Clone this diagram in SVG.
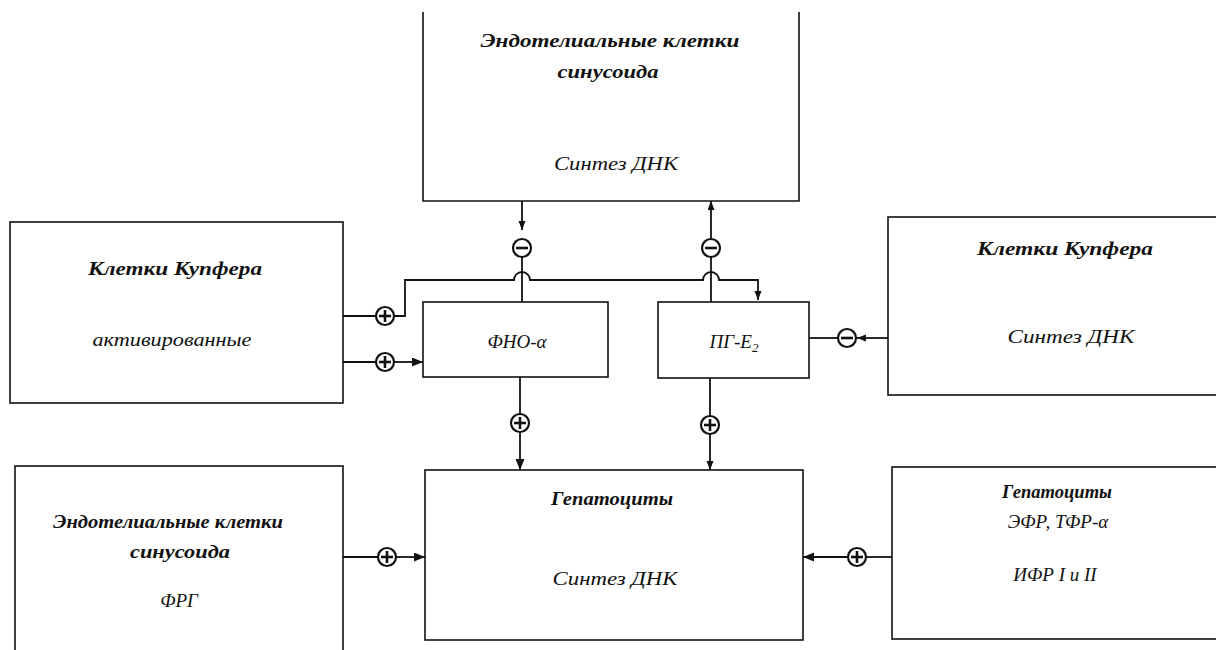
<svg xmlns="http://www.w3.org/2000/svg" width="1216" height="650" viewBox="0 0 1216 650">
<style>
.box{fill:none;stroke:#111;stroke-width:1.6}
.ln{fill:none;stroke:#111;stroke-width:1.8}
.sg{fill:#fff;stroke:#111;stroke-width:2.2}
.sn{stroke:#111;stroke-width:2.6;stroke-linecap:butt}
.h{font-family:"Liberation Serif",serif;font-style:italic;font-weight:bold;font-size:19px;fill:#111;text-anchor:middle}
.t{font-family:"Liberation Serif",serif;font-style:italic;font-size:19px;fill:#111;text-anchor:middle}
</style>
<defs>
<marker id="ar" markerUnits="userSpaceOnUse" markerWidth="12" markerHeight="10" refX="11" refY="4.5" orient="auto"><path d="M0,0 L11,4.5 L0,9 z" fill="#111"/></marker>
<marker id="as" markerUnits="userSpaceOnUse" markerWidth="10" markerHeight="8" refX="9" refY="3.5" orient="auto"><path d="M0,0 L9,3.5 L0,7 z" fill="#111"/></marker>
</defs>
<rect width="1216" height="650" fill="#fff"/>

<g id="endo-top">
<path class="box" d="M423,12 V201 H799 V12"/>
<text class="h" x="610" y="47" textLength="259" lengthAdjust="spacingAndGlyphs">Эндотелиальные клетки</text>
<text class="h" x="608" y="78" textLength="101" lengthAdjust="spacingAndGlyphs">синусоида</text>
<text class="t" x="616" y="170" textLength="124" lengthAdjust="spacingAndGlyphs">Синтез ДНК</text>
</g>

<g id="kupffer-left">
<rect class="box" x="10" y="222" width="333" height="181"/>
<text class="h" x="175" y="275" textLength="174" lengthAdjust="spacingAndGlyphs">Клетки Купфера</text>
<text class="t" x="172" y="346" textLength="159" lengthAdjust="spacingAndGlyphs">активированные</text>
</g>

<g id="fno">
<rect class="box" x="423" y="302" width="185" height="75"/>
<text class="t" x="517" y="348">ФНО-α</text>
</g>

<g id="pg">
<rect class="box" x="658" y="302" width="151" height="76"/>
<text class="t" x="734" y="348">ПГ-E<tspan font-size="13" dy="4">2</tspan></text>
</g>

<g id="kupffer-right">
<rect class="box" x="888" y="217" width="400" height="178"/>
<text class="h" x="1065" y="255" textLength="176" lengthAdjust="spacingAndGlyphs">Клетки Купфера</text>
<text class="t" x="1071" y="343" textLength="127" lengthAdjust="spacingAndGlyphs">Синтез ДНК</text>
</g>

<g id="endo-bottom">
<rect class="box" x="15" y="466" width="328" height="300"/>
<text class="h" x="168" y="528" textLength="230" lengthAdjust="spacingAndGlyphs">Эндотелиальные клетки</text>
<text class="h" x="180" y="558" textLength="100" lengthAdjust="spacingAndGlyphs">синусоида</text>
<text class="t" x="179" y="607">ФРГ</text>
</g>

<g id="hepato-center">
<rect class="box" x="425" y="470" width="378" height="170"/>
<text class="h" x="612" y="505" textLength="122" lengthAdjust="spacingAndGlyphs">Гепатоциты</text>
<text class="t" x="615" y="585" textLength="125" lengthAdjust="spacingAndGlyphs">Синтез ДНК</text>
</g>

<g id="hepato-right">
<rect class="box" x="892" y="467" width="400" height="172"/>
<text class="h" x="1057" y="498" textLength="110" lengthAdjust="spacingAndGlyphs">Гепатоциты</text>
<text class="t" x="1058" y="528">ЭФР, ТФР-α</text>
<text class="t" x="1055" y="581">ИФР I и II</text>
</g>

<g id="connectors">
<!-- top box down to minus circle (left) -->
<line class="ln" x1="522" y1="201" x2="522" y2="230" marker-end="url(#as)"/>
<line class="ln" x1="522" y1="257" x2="522" y2="302"/>
<!-- minus circle up to top box (right) -->
<line class="ln" x1="711" y1="239" x2="711" y2="201" marker-end="url(#as)"/>
<line class="ln" x1="711" y1="257" x2="711" y2="302"/>
<!-- Kupffer left to bus with hops, to PG -->
<line class="ln" x1="343" y1="316" x2="376" y2="316"/>
<path class="ln" d="M394,316 H405 V280 H514 A8,8 0 0,1 530,280 H703 A8,8 0 0,1 719,280 H758 V300" marker-end="url(#as)"/>
<!-- Kupffer left to FNO -->
<line class="ln" x1="343" y1="362" x2="376" y2="362"/>
<line class="ln" x1="394" y1="362" x2="423" y2="362" marker-end="url(#ar)"/>
<!-- PG to Kupffer right -->
<line class="ln" x1="809" y1="338" x2="838" y2="338"/>
<line class="ln" x1="888" y1="338" x2="857" y2="338" marker-end="url(#as)"/>
<!-- FNO to hepato -->
<line class="ln" x1="520" y1="377" x2="520" y2="414"/>
<line class="ln" x1="520" y1="432" x2="520" y2="470" marker-end="url(#ar)"/>
<!-- PG to hepato -->
<line class="ln" x1="710" y1="378" x2="710" y2="416"/>
<line class="ln" x1="710" y1="434" x2="710" y2="470" marker-end="url(#as)"/>
<!-- endo bottom to hepato -->
<line class="ln" x1="343" y1="557" x2="378" y2="557"/>
<line class="ln" x1="396" y1="557" x2="425" y2="557" marker-end="url(#ar)"/>
<!-- hepato right to hepato center -->
<line class="ln" x1="892" y1="557" x2="866" y2="557"/>
<line class="ln" x1="848" y1="557" x2="803" y2="557" marker-end="url(#ar)"/>

<!-- sign circles -->
<circle class="sg" cx="522" cy="248" r="9"/><line class="sn" x1="516" y1="248" x2="528" y2="248"/>
<circle class="sg" cx="711" cy="248" r="9"/><line class="sn" x1="705" y1="248" x2="717" y2="248"/>
<circle class="sg" cx="385" cy="316" r="9"/><line class="sn" x1="379" y1="316" x2="391" y2="316"/><line class="sn" x1="385" y1="310" x2="385" y2="322"/>
<circle class="sg" cx="385" cy="362" r="9"/><line class="sn" x1="379" y1="362" x2="391" y2="362"/><line class="sn" x1="385" y1="356" x2="385" y2="368"/>
<circle class="sg" cx="847" cy="338" r="9"/><line class="sn" x1="841" y1="338" x2="853" y2="338"/>
<circle class="sg" cx="520" cy="423" r="9"/><line class="sn" x1="514" y1="423" x2="526" y2="423"/><line class="sn" x1="520" y1="417" x2="520" y2="429"/>
<circle class="sg" cx="710" cy="425" r="9"/><line class="sn" x1="704" y1="425" x2="716" y2="425"/><line class="sn" x1="710" y1="419" x2="710" y2="431"/>
<circle class="sg" cx="387" cy="557" r="9"/><line class="sn" x1="381" y1="557" x2="393" y2="557"/><line class="sn" x1="387" y1="551" x2="387" y2="563"/>
<circle class="sg" cx="857" cy="557" r="9"/><line class="sn" x1="851" y1="557" x2="863" y2="557"/><line class="sn" x1="857" y1="551" x2="857" y2="563"/>
</g>
</svg>
